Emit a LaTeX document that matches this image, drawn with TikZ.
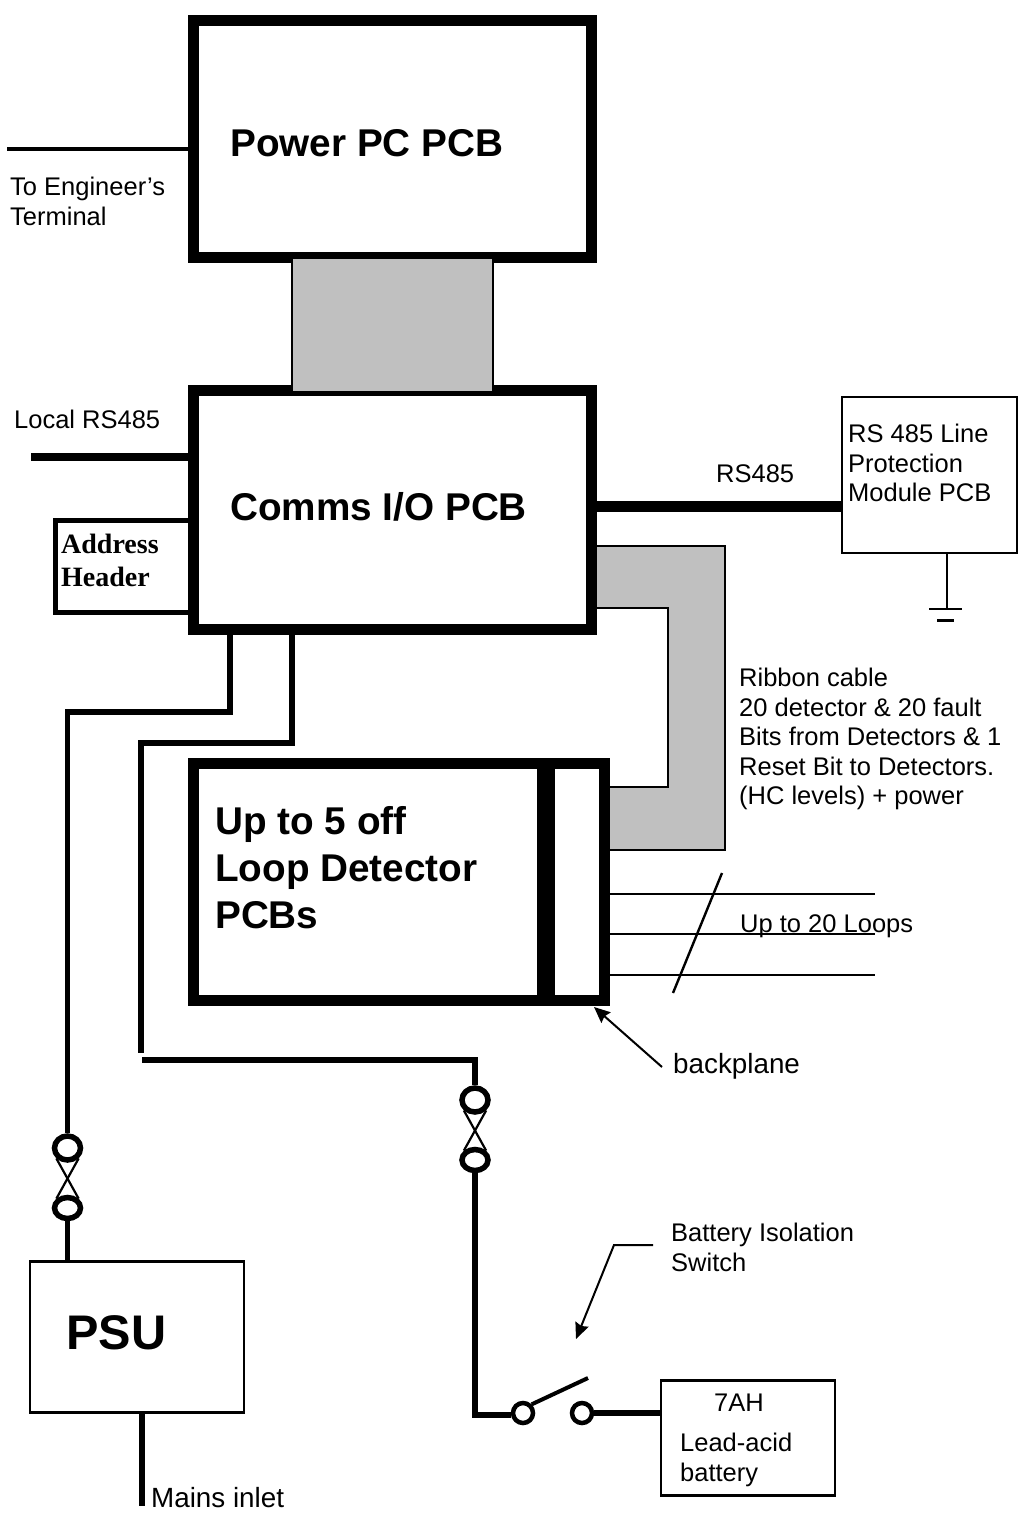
\documentclass[tikz,border=0pt]{standalone}
\usepackage{fontspec}
\setmainfont[Ligatures=NoCommon]{Liberation Sans}
\newfontfamily\headerfont{Liberation Serif}
\usetikzlibrary{arrows.meta,shapes.geometric}
\definecolor{ribbongrey}{HTML}{C0C0C0}

\begin{document}
\begin{tikzpicture}[x=1pt,y=-1pt,>=Latex,
  pcb/.style={draw,line width=11pt,inner sep=0pt},
  thinbox/.style={draw,line width=2.6pt,inner sep=0pt},
  ribbon/.style={draw,line width=2pt,fill=ribbongrey},
  wire/.style={line width=5.5pt},
  fatwire/.style={line width=11pt},
  hair/.style={line width=2.2pt},
  conn/.style={ellipse,draw,line width=5.5pt,fill=white,inner sep=0pt,minimum width=26pt},
  term/.style={circle,draw,line width=4.5pt,fill=white,inner sep=0pt,minimum size=20pt},
  la/.style={-{Stealth[length=16pt,width=14pt,inset=2pt]},line width=2pt},
  txt/.style={anchor=north west,inner sep=0pt,align=left,font=\fontsize{25.5}{29.5}\selectfont},
  txtbig/.style={anchor=north west,inner sep=0pt,font=\fontsize{27.8}{32}\selectfont},
  big/.style={anchor=north west,inner sep=0pt,align=left,font=\fontsize{38.7}{47}\selectfont\bfseries}]
\useasboundingbox (0,0) rectangle (1018,1513);
% boards
\draw[ribbon] (597,546)--(725,546)--(725,850)--(609,850)--(609,787)--(668,787)--(668,608)--(597,608);
\node[pcb,minimum width=398pt,minimum height=237pt] (power) at (392.5,138.5) {};
\node[pcb,minimum width=398pt,minimum height=238.5pt] (comms) at (392.5,509.75) {};
\node[pcb,minimum width=411pt,minimum height=237pt] (loops) at (399,882) {};
\node[draw,fill=black,line width=0pt,minimum width=17pt,minimum height=237pt,inner sep=0pt] (backplane) at (545.5,882) {};
\node[ribbon,minimum width=201pt,minimum height=134pt,inner sep=0pt] (bus) at (392.5,325) {};
\node[draw,line width=5pt,minimum width=135pt,minimum height=92pt,inner sep=0pt] (addr) at (123,566.5) {};
\node[thinbox,minimum width=175pt,minimum height=156pt] (rsmod) at (929.5,475) {};
\node[thinbox,minimum width=214pt,minimum height=151pt] (psu) at (137,1337) {};
\node[thinbox,minimum width=174pt,minimum height=115pt] (batt) at (748,1438) {};
% labels in the boards
\node[big] (powertxt) at (230,129) {Power PC PCB};
\node[big] (commstxt) at (230,492) {Comms I/O PCB};
\node[big] (loopstxt) at (215,806) {Up to 5 off\\Loop Detector\\PCBs};
\node[anchor=north west,inner sep=0pt,font=\fontsize{48.6}{56}\selectfont\bfseries] (psutxt) at (66,1315) {PSU};
\node[anchor=north west,inner sep=0pt,align=left,font=\headerfont\fontsize{28}{33}\selectfont\bfseries] (addrtxt) at (61,534) {Address\\Header};
\node[txt] (rstxt) at (848,424) {RS 485 Line\\Protection\\Module PCB};
\node[txt] (batttxt) at (714,1394) {7AH};
\node[txt] (leadtxt) at (680,1433) {Lead-acid\\battery};
% labels outside
\node[txt] (termtxt) at (10,177) {To Engineer’s\\Terminal};
\node[txt] (localtxt) at (14,410) {Local RS485};
\node[txt] (rs485txt) at (716,464) {RS485};
\node[txt] (ribbontxt) at (739,668) {Ribbon cable\\20 detector \& 20 fault\\Bits from Detectors \& 1\\Reset Bit to Detectors.\\(HC levels) + power};
\node[txt] (looptxt) at (740,914) {Up to 20 Loops};
\node[txtbig] (backtxt) at (673,1053) {backplane};
\node[txt] (switchtxt) at (671,1223) {Battery Isolation\\Switch};
\node[txtbig] (mainstxt) at (151,1487) {Mains inlet};
% free ends
\coordinate (termend) at (7,149);
\coordinate (localend) at (31,457);
\coordinate (rsjoin) at (720,506);
\coordinate (bendA) at (230,712);
\coordinate (bendB) at (67.5,712);
\coordinate (bendC) at (292,743);
\coordinate (bendD) at (141,743);
\coordinate (stubB) at (141,1053);
\coordinate (joinA) at (142,1060);
\coordinate (joinB) at (475,1060);
\coordinate (cornerS) at (475,1415);
\coordinate (gnd) at (947,609);
\coordinate (mainsend) at (142,1506);
% connector pairs
\node[conn,minimum height=24pt] (cp1) at (67.5,1148) {};
\node[conn,minimum height=21pt] (cp2) at (67.5,1208) {};
\node[conn,minimum height=24pt] (cp3) at (475,1100) {};
\node[conn,minimum height=21pt] (cp4) at (475,1160) {};
\node[term] (sw1) at (523,1413) {};
\node[term] (sw2) at (582,1413) {};
% wiring
\draw[line width=4pt] (termend)--(termend -| power.west);
\draw[line width=8pt] (localend)--(localend -| comms.west);
\draw[fatwire] (comms.east |- rsjoin)--(rsmod.west |- rsjoin);
\draw[wire] (bendA |- comms.south)--(bendA)--(bendB)--(cp1.north);
\draw[wire] (bendC |- comms.south)--(bendC)--(bendD)--(stubB);
\draw[wire] (joinA)--(joinB)--(cp3.north);
\draw[wire] (cp2.south)--(cp2.south |- psu.north);
\draw[wire] (cp4.south)--(cornerS)--(cornerS -| sw1.west);
\draw[wire] (sw2.east)--(sw2.east -| batt.west);
\draw[wire] (psu.south -| mainsend)--(mainsend);
\draw[hair] (cp1.south west)--(cp2.north east);
\draw[hair] (cp1.south east)--(cp2.north west);
\draw[hair] (cp3.south west)--(cp4.north east);
\draw[hair] (cp3.south east)--(cp4.north west);
\coordinate (armend) at (588,1378);
\draw[line width=4pt] (sw1.north east)--(armend);
% ground
\coordinate (gndA) at (929,609);
\coordinate (gndB) at (962,609);
\coordinate (gndC) at (937,620);
\coordinate (gndD) at (954,620);
\draw[line width=2.6pt] (gnd |- rsmod.south)--(gnd);
\draw[line width=2.6pt] (gndA)--(gndB);
\draw[line width=3pt] (gndC)--(gndD);
% loops
\foreach \yy/\nn in {894/a,934/b,975/c}{
  \coordinate (loop\nn) at (875,\yy);
  \draw[hair] (loops.east |- loop\nn)--(loop\nn);
}
\coordinate (slashA) at (722,873);
\coordinate (slashB) at (673,993);
\draw[line width=2.4pt] (slashA)--(slashB);
% pointers
\coordinate (backfrom) at (662,1067);
\coordinate (backto) at (594,1007);
\draw[la] (backfrom)--(backto);
\coordinate (leadA) at (653,1245);
\coordinate (leadB) at (614,1245);
\coordinate (leadC) at (576,1339);
\draw[la] (leadA)--(leadB)--(leadC);
\end{tikzpicture}
\end{document}
